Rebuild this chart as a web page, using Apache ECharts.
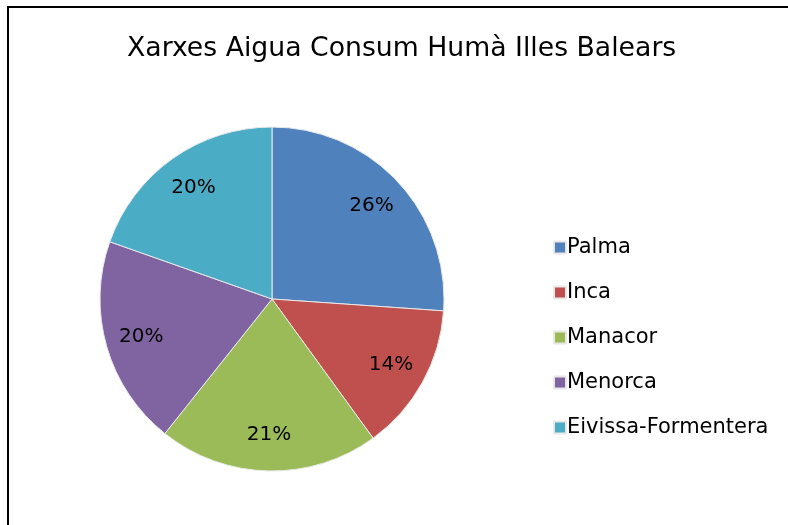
<!DOCTYPE html>
<html>
<head>
<meta charset="utf-8">
<script src="https://cdn.jsdelivr.net/npm/echarts@6/dist/echarts.min.js"></script>
<style>
  html, body { margin: 0; padding: 0; background: #fff; }
  #chart { width: 788px; height: 525px; }
</style>
</head>
<body>
<div id="chart"></div>
<script>
// dades
var categories = ['Palma', 'Inca', 'Manacor', 'Menorca', 'Eivissa-Formentera'];
var values = [26.1, 13.9, 20.7, 19.7, 19.6];
var colors = ['#4F81BD', '#C0504D', '#9BBB59', '#8064A2', '#4BACC6'];

var pieData = categories.map(function (name, i) {
    return { name: name, value: values[i] };
});

var chart = echarts.init(document.getElementById('chart'));

var option = {
    color: colors,
    animation: false,
    title: {
        text: 'Xarxes Aigua Consum Humà Illes Balears',
        left: 122,
        top: 31,
        textStyle: {
            fontFamily: 'DejaVu Sans',
            fontSize: 26.7,
            fontWeight: 'normal',
            color: '#000'
        }
    },
    legend: {
        orient: 'vertical',
        left: 548,
        top: 232,
        itemWidth: 12,
        itemHeight: 12,
        itemGap: 24,
        icon: 'rect',
        data: categories,
        textStyle: {
            fontFamily: 'DejaVu Sans',
            fontSize: 21,
            color: '#000',
            padding: [0, 0, 0, -4]
        }
    },
    graphic: [{
        type: 'rect',
        shape: { x: 8, y: 7, width: 800, height: 540 },
        style: { fill: 'none', stroke: '#000', lineWidth: 2 },
        silent: true
    }],
    series: [
        {
            name: 'pie',
            type: 'pie',
            center: [272, 299],
            radius: [0, 172],
            startAngle: 90,
            clockwise: true,
            data: pieData,
            itemStyle: { borderColor: '#e8e8e8', borderWidth: 1 },
            label: { show: false },
            labelLine: { show: false },
            emphasis: { disabled: true }
        },
        {
            name: 'labels',
            type: 'pie',
            center: [272, 299],
            radius: [94, 172],
            startAngle: 90,
            clockwise: true,
            silent: true,
            data: pieData,
            itemStyle: { color: 'rgba(0,0,0,0)' },
            label: {
                show: true,
                position: 'inside',
                formatter: function (p) { return Math.round(p.percent) + '%'; },
                fontFamily: 'DejaVu Sans',
                fontSize: 20,
                color: '#000'
            },
            labelLine: { show: false },
            emphasis: { disabled: true }
        }
    ]
};

chart.setOption(option);
</script>
</body>
</html>
